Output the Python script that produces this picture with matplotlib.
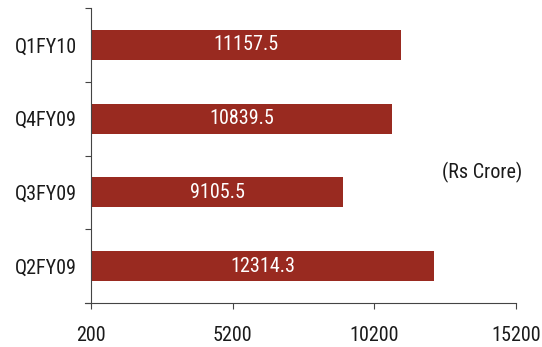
import matplotlib.pyplot as plt
from matplotlib import font_manager

quarters = ['Q1FY10', 'Q4FY09', 'Q3FY09', 'Q2FY09']
revenue = [11157.5, 10839.5, 9105.5, 12314.3]
xticks = [200, 5200, 10200, 15200]

# narrow sans for all labels, first one that is installed
names = {f.name for f in font_manager.fontManager.ttflist}
wanted = ['Roboto Condensed', 'Liberation Sans Narrow', 'Archivo Narrow',
          'PT Sans Narrow', 'Fira Sans Condensed', 'Encode Sans Condensed',
          'Asap Condensed', 'Barlow Semi Condensed', 'IBM Plex Sans Condensed',
          'Pragati Narrow', 'Open Sans Condensed']
font = next((n for n in wanted if n in names), 'Liberation Sans')
plt.rcParams['font.family'] = [font, 'DejaVu Sans']
fs = 14.5

fig = plt.figure(figsize=(5.42, 3.47), dpi=100)
ax = fig.add_axes([91 / 542, 1 - 303 / 347, 425 / 542, 295 / 347])

base = xticks[0]
pos = list(range(len(quarters)))[::-1]
bars = ax.barh(pos, [v - base for v in revenue], left=base, height=0.41,
               color='#992a20')
for b, v in zip(bars, revenue):
    ax.text(b.get_x() + b.get_width() / 2, b.get_y() + b.get_height() / 2,
            f'{v:.1f}', color='white', ha='center', va='center', fontsize=fs)

ax.set_xlim(xticks[0], xticks[-1])
ax.set_xticks(xticks)
ax.set_ylim(-0.5, len(quarters) - 0.5)
ax.set_yticks([p + 0.5 for p in range(-1, len(quarters))])
ax.set_yticklabels([])
ax.set_yticks(pos, quarters, minor=True)
ax.tick_params(axis='y', which='major', length=4.3, width=0.8,
               direction='out', color='#444444')
ax.tick_params(axis='y', which='minor', length=0, pad=10, labelsize=fs,
               labelcolor='#1a1a1a')
ax.tick_params(axis='x', length=4.3, width=0.8, direction='out', pad=12,
               labelsize=fs, color='#444444', labelcolor='#1a1a1a')

for s in ['top', 'right']:
    ax.spines[s].set_visible(False)
for s in ['left', 'bottom']:
    ax.spines[s].set_linewidth(0.8)
    ax.spines[s].set_color('#444444')
# x axis line runs a tick length past the y axis
ax.spines['bottom'].set_bounds(base - 6 / 425 * (xticks[-1] - base), xticks[-1])

ax.text(482 / 542, 1 - 172 / 347, '(Rs Crore)', transform=fig.transFigure,
        ha='center', va='center', fontsize=fs, color='#1a1a1a')

fig.savefig('out.png', dpi=100)
